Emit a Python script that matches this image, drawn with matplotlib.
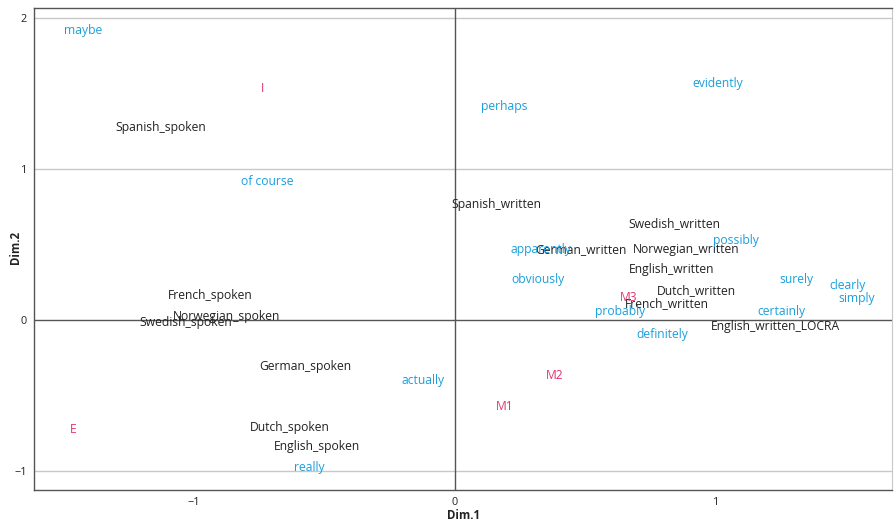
import matplotlib
matplotlib.use("Agg")
import matplotlib.pyplot as plt

# Column (language/mode) points - black
col_labels = ["Spanish_spoken", "Spanish_written", "Swedish_written", "German_written",
              "Norwegian_written", "English_written", "Dutch_written", "French_written",
              "English_written_LOCRA", "French_spoken", "Norwegian_spoken", "Swedish_spoken",
              "German_spoken", "Dutch_spoken", "English_spoken"]
col_x = [-1.126, 0.157, 0.839, 0.483, 0.885, 0.831, 0.923, 0.812, 1.226,
         -0.939, -0.877, -1.031, -0.575, -0.632, -0.529]
col_y = [1.272, 0.768, 0.636, 0.464, 0.470, 0.331, 0.192, 0.106, -0.040,
         0.159, 0.020, -0.020, -0.305, -0.715, -0.841]

# Adverb points - blue
adv_labels = ["maybe", "of course", "evidently", "perhaps", "possibly", "apparently",
              "obviously", "surely", "clearly", "simply", "probably", "certainly",
              "definitely", "actually", "really"]
adv_x = [-1.425, -0.720, 1.008, 0.188, 1.077, 0.330, 0.318, 1.307, 1.502, 1.540,
         0.632, 1.249, 0.793, -0.123, -0.559]
adv_y = [1.920, 0.914, 1.563, 1.417, 0.523, 0.464, 0.265, 0.265, 0.225, 0.139,
         0.053, 0.053, -0.099, -0.404, -0.974]

# Supplementary points - red
sup_labels = ["I", "E", "M1", "M2", "M3"]
sup_x = [-0.736, -1.464, 0.192, 0.383, 0.667]
sup_y = [1.536, -0.728, -0.570, -0.371, 0.146]

x_ticks = [-1, 0, 1]
y_ticks = [-1, 0, 1, 2]

plt.rcParams['font.family'] = ['Open Sans', 'DejaVu Sans']

fig = plt.figure(figsize=(8.94, 5.22), dpi=100)
ax = fig.add_axes([34 / 894, 32 / 522, 858 / 894, 482 / 522])
ax.set_xlim(-1.613, 1.674)
ax.set_ylim(-1.126, 2.066)

for yv in y_ticks:
    if yv != 0:
        ax.axhline(yv, color="#c8c8c8", lw=1.0, zorder=0)
ax.axhline(0, color="#555555", lw=1.0, zorder=1)
ax.axvline(0, color="#555555", lw=1.0, zorder=1)

fs = 8.7
for lab, x, y in zip(col_labels, col_x, col_y):
    ax.text(x, y, lab, color="#222222", fontsize=fs, ha="center", va="center", zorder=3)
for lab, x, y in zip(adv_labels, adv_x, adv_y):
    ax.text(x, y, lab, color="#1a9fdb", fontsize=fs, ha="center", va="center", zorder=3)
for lab, x, y in zip(sup_labels, sup_x, sup_y):
    ax.text(x, y, lab, color="#e6336b", fontsize=fs, ha="center", va="center", zorder=3)

ax.set_xticks(x_ticks)
ax.set_yticks(y_ticks)
ax.set_xticklabels(["\u22121", "0", "1"])
ax.set_yticklabels(["\u22121", "0", "1", "2"])
ax.tick_params(length=0, labelsize=7.8, colors="#222222", pad=5)

for s in ["left", "bottom", "top"]:
    ax.spines[s].set_color("#555555")
    ax.spines[s].set_linewidth(1.0)
ax.spines["right"].set_color("#c8c8c8")

ax.set_xlabel("Dim.1", fontsize=8.3, fontweight="bold", color="#222222")
ax.set_ylabel("Dim.2", fontsize=8.3, fontweight="bold", color="#222222")
ax.xaxis.set_label_coords(0.5, -0.040)
ax.yaxis.set_label_coords(-0.014, 0.504)

fig.savefig("out.png", dpi=100)
